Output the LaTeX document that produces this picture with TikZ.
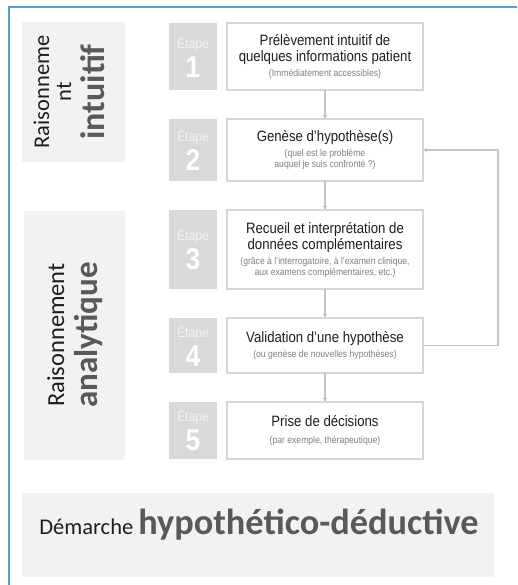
\documentclass[tikz,border=0pt]{standalone}
\usepackage{fontspec}
\setmainfont{Liberation Sans}
\newfontfamily\arialn[FakeStretch=0.88]{Liberation Sans}
\newfontfamily\calib{Carlito}
\usetikzlibrary{arrows.meta}
\definecolor{blueframe}{HTML}{5B9BD5}
\definecolor{panelfill}{HTML}{F2F2F2}
\definecolor{stepfill}{HTML}{D9D9D9}
\definecolor{boxline}{HTML}{D6D6D6}
\definecolor{arrowgray}{HTML}{C4C4C4}
\definecolor{subgray}{HTML}{808080}
\definecolor{darkgray}{HTML}{595959}
\definecolor{maintext}{HTML}{1E1E1E}
\newcommand{\subtxt}{\color{subgray}\fontsize{9.8}{10.5}\selectfont}
\newcommand{\stepnum}{\color{white}\fontsize{30}{29}\selectfont\bfseries}
\begin{document}
\begin{tikzpicture}[x=1pt,y=-1pt,
  panel/.style={fill=panelfill, draw=none, inner sep=0pt, outer sep=0pt},
  stepbox/.style={fill=stepfill, draw=none, inner sep=0pt, outer sep=0pt,
    minimum width=48pt, align=center, text=panelfill,
    font=\arialn\fontsize{13.9}{29}\selectfont},
  mainbox/.style={draw=boxline, line width=1.6pt, fill=white, inner sep=0pt, outer sep=0pt,
    minimum width=196pt, align=center, text=maintext,
    font=\arialn\fontsize{15}{16}\selectfont},
  conn/.style={draw=arrowgray, line width=1.1pt, -{Stealth[length=4.5pt,width=4.5pt]}},
  sidetxt/.style={rotate=90, anchor=base, inner sep=0pt, font=\calib}
]
\useasboundingbox (0,0) rectangle (517,585);
% blue frame
\draw[blueframe, line width=2pt] (8.5,585) -- (8.5,7.5) -- (517,7.5);

% left panels
\node[panel, minimum width=103pt, minimum height=140pt] (pint) at (73.5,92) {};
\node[panel, minimum width=101pt, minimum height=249pt] (pana) at (74.5,335.5) {};
\node[panel, minimum width=472pt, minimum height=84pt] (pbot) at (258,535) {};

% side texts
\node[sidetxt, text=maintext] (t1a) at (49,92) {\fontsize{22.5}{22}\selectfont Raisonneme};
\node[sidetxt, text=maintext] (t1b) at (71,92) {\fontsize{22.5}{22}\selectfont nt};
\node[sidetxt, text=darkgray] (t1c) at (104,92) {\fontsize{34}{34}\selectfont\bfseries intuitif};
\node[sidetxt, text=maintext] (t2a) at (64,335) {\fontsize{24.5}{24}\selectfont Raisonnement};
\node[sidetxt, text=darkgray] (t2b) at (97,335) {\fontsize{33}{33}\selectfont\bfseries analytique};
\node[anchor=base, inner sep=0pt, font=\calib] (tbot) at (259,534)
  {\color{maintext}\fontsize{22.5}{22}\selectfont Démarche \color{darkgray}\fontsize{36.3}{36}\selectfont\bfseries hypothético-déductive};

% step labels
\node[stepbox, minimum height=67pt] (s1) at (193,56.5) {Étape\\\stepnum 1};
\node[stepbox, minimum height=62pt] (s2) at (193,150) {Étape\\\stepnum 2};
\node[stepbox, minimum height=79pt] (s3) at (193,249.5) {Étape\\\stepnum 3};
\node[stepbox, minimum height=55pt] (s4) at (193,345.5) {Étape\\\stepnum 4};
\node[stepbox, minimum height=57pt] (s5) at (193,430.5) {Étape\\\stepnum 5};

% main boxes
\node[mainbox, minimum height=67pt] (b1) at (325,56.5)
  {Prélèvement intuitif de\\quelques informations patient\\[-1pt]{\subtxt (Immédiatement accessibles)}};
\node[mainbox, minimum height=62pt] (b2) at (325,150)
  {Genèse d’hypothèse(s)\\[-1pt]{\subtxt (quel est le problème}\\[-5pt]{\subtxt auquel je suis confronté ?)}};
\node[mainbox, minimum height=79pt] (b3) at (325,249.5)
  {Recueil et interprétation de\\données complémentaires\\[-1pt]{\subtxt (grâce à l’interrogatoire, à l’examen clinique,}\\[-5pt]{\subtxt aux examens complémentaires, etc.)}};
\node[mainbox, minimum height=55pt] (b4) at (325,345.5)
  {Validation d’une hypothèse\\[-1pt]{\subtxt (ou genèse de nouvelles hypothèses)}};
\node[mainbox, minimum height=57pt] (b5) at (325,430.5)
  {Prise de décisions\\[1pt]{\subtxt (par exemple, thérapeutique)}};

% connectors
\draw[conn] (b1.south) -- (b2.north);
\draw[conn] (b2.south) -- (b3.north);
\draw[conn] (b3.south) -- (b4.north);
\draw[conn] (b4.south) -- (b5.north);
\draw[conn] (b4.east) -- ++(75,0) |- (b2.east);
\end{tikzpicture}
\end{document}
